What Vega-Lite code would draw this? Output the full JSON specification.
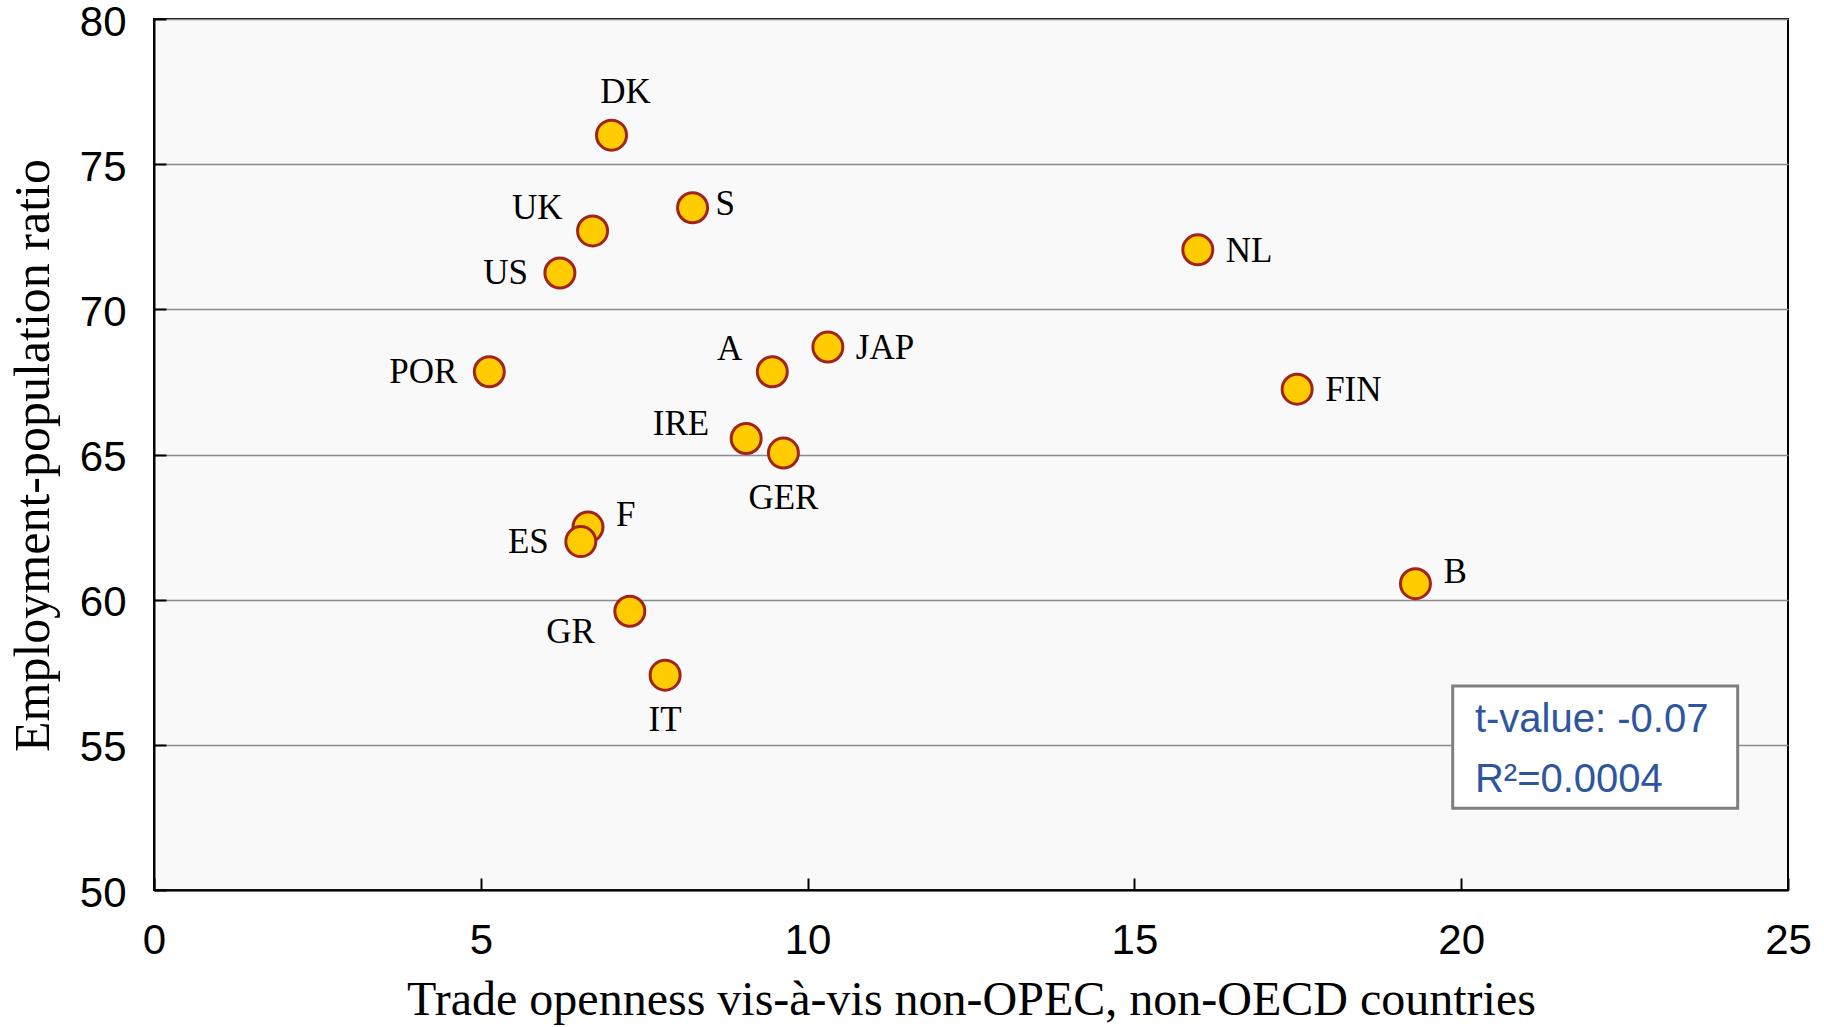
{
  "$schema": "https://vega.github.io/schema/vega-lite/v6.json",
  "width": 1634,
  "height": 871,
  "autosize": {"type": "none"},
  "padding": {"left": 154, "top": 19, "right": 36, "bottom": 137},
  "background": "white",
  "config": {
    "view": {"fill": "#f9f9f9", "stroke": "#000000", "strokeWidth": 2},
    "axis": {
      "domainColor": "#000000", "domainWidth": 2,
      "tickColor": "#000000", "tickWidth": 2, "tickSize": -12,
      "labelFont": "Liberation Sans", "labelFontSize": 42, "labelColor": "#000000", "labelFlush": false, "labelOverlap": false,
      "titleFont": "Liberation Serif", "titleFontSize": 48, "titleFontWeight": "normal", "titleColor": "#000000"
    }
  },
  "datasets": {
    "pts": [
      {"country": "DK", "trade": 7.0, "emp": 76.0},
      {"country": "S", "trade": 8.24, "emp": 73.5},
      {"country": "UK", "trade": 6.71, "emp": 72.7},
      {"country": "US", "trade": 6.21, "emp": 71.25},
      {"country": "NL", "trade": 15.97, "emp": 72.05},
      {"country": "POR", "trade": 5.13, "emp": 67.85},
      {"country": "A", "trade": 9.46, "emp": 67.85},
      {"country": "JAP", "trade": 10.31, "emp": 68.7},
      {"country": "FIN", "trade": 17.49, "emp": 67.25},
      {"country": "IRE", "trade": 9.06, "emp": 65.55},
      {"country": "GER", "trade": 9.63, "emp": 65.05},
      {"country": "F", "trade": 6.64, "emp": 62.5},
      {"country": "ES", "trade": 6.53, "emp": 62.0},
      {"country": "B", "trade": 19.3, "emp": 60.55},
      {"country": "GR", "trade": 7.28, "emp": 59.6},
      {"country": "IT", "trade": 7.82, "emp": 57.4}
    ]
  },
  "encoding": {
    "x": {"field": "trade", "type": "quantitative",
      "scale": {"domain": [0, 25], "nice": false, "zero": false},
      "axis": {"values": [0, 5, 10, 15, 20, 25], "grid": false, "labelPadding": 42,
        "title": "Trade openness vis-à-vis non-OPEC, non-OECD countries", "titleY": 110, "titleBaseline": "middle"}},
    "y": {"field": "emp", "type": "quantitative",
      "scale": {"domain": [50, 80], "nice": false, "zero": false},
      "axis": {"values": [50, 55, 60, 65, 70, 75, 80], "grid": true, "gridColor": "#8c8c8c", "gridWidth": 1.5, "labelPadding": 40, "labelOffset": 3,
        "title": "Employment-population ratio", "titleFontSize": 50, "titleX": -121, "titleY": 436, "titleAngle": -90, "titleBaseline": "middle", "titleAlign": "center"}}
  },
  "layer": [
    {
      "data": {"values": [{"x1": 19.87, "x2": 24.23, "y1": 57.03, "y2": 52.82}]},
      "mark": {"type": "rect", "fill": "#ffffff", "stroke": "#808080", "strokeWidth": 3},
      "encoding": {
        "x": {"field": "x1", "type": "quantitative"},
        "x2": {"field": "x2"},
        "y": {"field": "y1", "type": "quantitative"},
        "y2": {"field": "y2"}
      }
    },
    {
      "data": {"values": [{"line": "t-value: -0.07", "lx": 20.21, "ly": 55.44}, {"line": "R²=0.0004", "lx": 20.21, "ly": 53.38}]},
      "mark": {"type": "text", "font": "Liberation Sans", "fontSize": 40, "color": "#2e55a0", "align": "left", "baseline": "alphabetic"},
      "encoding": {
        "x": {"field": "lx", "type": "quantitative"},
        "y": {"field": "ly", "type": "quantitative"},
        "text": {"field": "line"}
      }
    },
    {
      "data": {"name": "pts"},
      "mark": {"type": "circle", "size": 900, "fill": "#ffcc00", "stroke": "#a0241a", "strokeWidth": 3, "opacity": 1}
    },
    {
      "data": {"name": "pts"},
      "transform": [{"filter": {"field": "country", "oneOf": ["NL", "JAP", "FIN"]}}],
      "mark": {"type": "text", "font": "Liberation Serif", "fontSize": 35, "color": "#000000", "align": "left", "baseline": "middle", "dx": 28, "dy": 1},
      "encoding": {"text": {"field": "country"}}
    },
    {
      "data": {"name": "pts"},
      "transform": [{"filter": {"field": "country", "oneOf": ["S"]}}],
      "mark": {"type": "text", "font": "Liberation Serif", "fontSize": 35, "color": "#000000", "align": "left", "baseline": "middle", "dx": 23, "dy": -4},
      "encoding": {"text": {"field": "country"}}
    },
    {
      "data": {"name": "pts"},
      "transform": [{"filter": {"field": "country", "oneOf": ["F", "B"]}}],
      "mark": {"type": "text", "font": "Liberation Serif", "fontSize": 35, "color": "#000000", "align": "left", "baseline": "middle", "dx": 28, "dy": -12},
      "encoding": {"text": {"field": "country"}}
    },
    {
      "data": {"name": "pts"},
      "transform": [{"filter": {"field": "country", "oneOf": ["US", "POR", "ES"]}}],
      "mark": {"type": "text", "font": "Liberation Serif", "fontSize": 35, "color": "#000000", "align": "right", "baseline": "middle", "dx": -32, "dy": 0},
      "encoding": {"text": {"field": "country"}}
    },
    {
      "data": {"name": "pts"},
      "transform": [{"filter": {"field": "country", "oneOf": ["UK", "A"]}}],
      "mark": {"type": "text", "font": "Liberation Serif", "fontSize": 35, "color": "#000000", "align": "right", "baseline": "middle", "dx": -30, "dy": -23},
      "encoding": {"text": {"field": "country"}}
    },
    {
      "data": {"name": "pts"},
      "transform": [{"filter": {"field": "country", "oneOf": ["IRE"]}}],
      "mark": {"type": "text", "font": "Liberation Serif", "fontSize": 35, "color": "#000000", "align": "right", "baseline": "middle", "dx": -37, "dy": -15},
      "encoding": {"text": {"field": "country"}}
    },
    {
      "data": {"name": "pts"},
      "transform": [{"filter": {"field": "country", "oneOf": ["GR"]}}],
      "mark": {"type": "text", "font": "Liberation Serif", "fontSize": 35, "color": "#000000", "align": "right", "baseline": "middle", "dx": -35, "dy": 21},
      "encoding": {"text": {"field": "country"}}
    },
    {
      "data": {"name": "pts"},
      "transform": [{"filter": {"field": "country", "oneOf": ["DK"]}}],
      "mark": {"type": "text", "font": "Liberation Serif", "fontSize": 35, "color": "#000000", "align": "center", "baseline": "middle", "dx": 14, "dy": -43},
      "encoding": {"text": {"field": "country"}}
    },
    {
      "data": {"name": "pts"},
      "transform": [{"filter": {"field": "country", "oneOf": ["GER", "IT"]}}],
      "mark": {"type": "text", "font": "Liberation Serif", "fontSize": 35, "color": "#000000", "align": "center", "baseline": "middle", "dx": 0, "dy": 45},
      "encoding": {"text": {"field": "country"}}
    }
  ]
}
